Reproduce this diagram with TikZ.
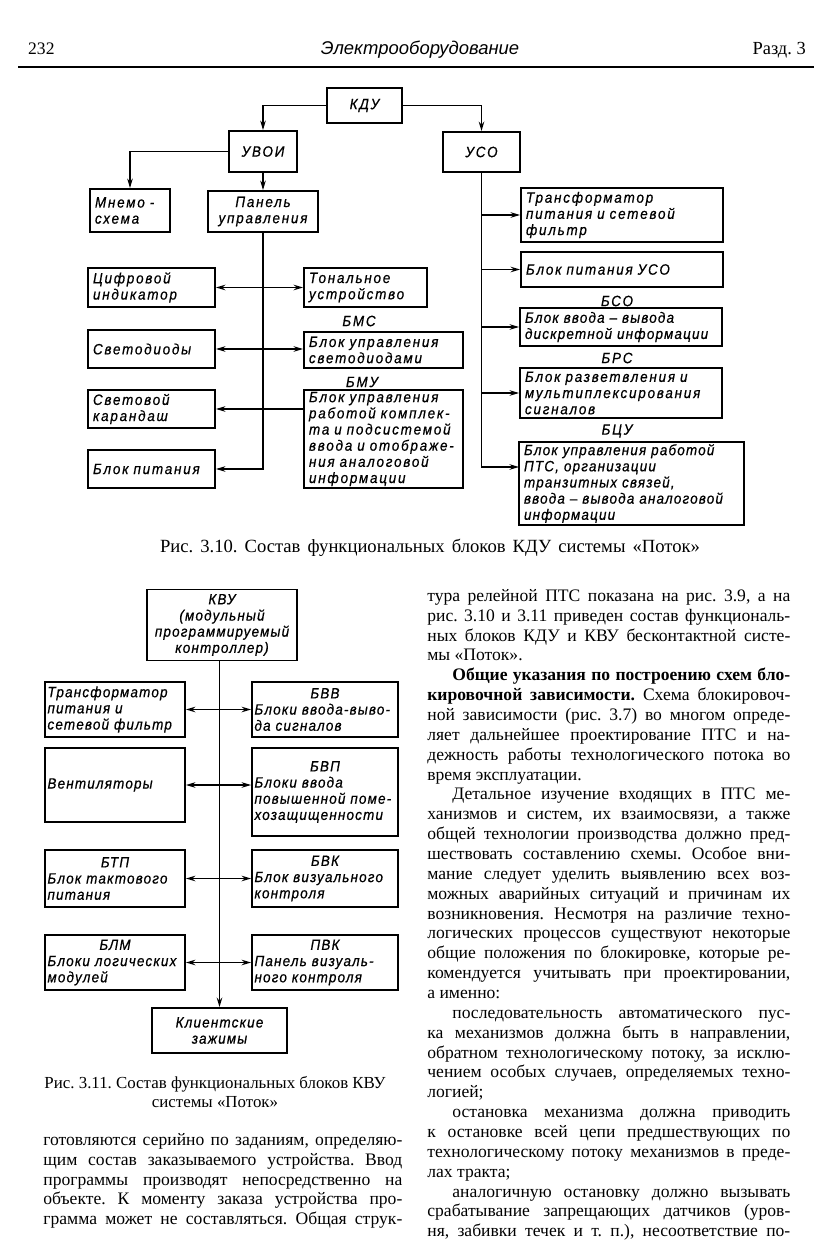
\documentclass[tikz,border=0pt]{standalone}
\usepackage{fontspec}
\setmainfont{Liberation Serif}
\newfontfamily\gostfont[FakeStretch=0.9,LetterSpace=12,FakeBold=0.6]{Liberation Sans}
\newfontfamily\gostnarrow[FakeStretch=0.9,LetterSpace=8,FakeBold=0.6]{Liberation Sans}
\newfontfamily\headfont{Liberation Sans}
\usetikzlibrary{arrows.meta,positioning}
\frenchspacing
% one justified line of the page text, and the last line of a paragraph
\newcommand{\jl}[1]{\hbox to\hsize{\spaceskip=0pt\xspaceskip=0pt #1}}
\newcommand{\jend}[1]{\hbox to\hsize{\spaceskip=0pt\xspaceskip=0pt #1\hfil}}

\begin{document}
\begin{tikzpicture}[
  box/.style={draw, line width=1pt, align=left, inner xsep=0.1cm, inner ysep=0.03cm,
    font=\gostfont\itshape\fontsize{8.5}{9.2}\selectfont},
  narrow/.style={font=\gostnarrow\itshape\fontsize{8.5}{9.2}\selectfont},
  box2/.style={box, narrow, inner xsep=0.05cm},
  tag/.style={font=\gostfont\itshape\fontsize{8.5}{9.2}\selectfont},
  arr/.style={-{Stealth[length=1.9mm,width=1.1mm]}, line width=1pt},
  darr/.style={{Stealth[length=1.9mm,width=1.1mm]}-{Stealth[length=1.9mm,width=1.1mm]}, line width=1pt},
  body/.style={font=\fontsize{10}{11.3}\selectfont, inner sep=0pt, anchor=north west},
  figcap/.style={font=\fontsize{10}{10.8}\selectfont, align=center}
]
\path[use as bounding box, fill=white] (0,0) rectangle (16.64,-25.18);

% page head
\node[anchor=base west, font=\fontsize{10}{12}\selectfont] (pnum) at (0.44,-1.1) {232};
\node[anchor=base, font=\headfont\itshape\fontsize{10.5}{12}\selectfont] (ptitle) at (8.4,-1.1) {Электрооборудование};
\node[anchor=base east, font=\fontsize{10.5}{12}\selectfont] (psect) at (16.24,-1.1) {Разд. 3};
\draw[line width=0.8pt] (0.36,-1.34) -- (16.28,-1.34);

% Fig. 3.10
\node[box, align=center, minimum width=1.5cm, minimum height=0.7cm] (kdu) at (7.29,-2.11) {КДУ};
\node[box, align=center, minimum width=1.36cm, minimum height=0.82cm] (uvoi) at (5.26,-3.03) {УВОИ};
\node[box, align=center, minimum width=1.54cm, minimum height=0.8cm] (uso) at (9.63,-3.04) {УСО};
\node[box, text width=1.4cm, minimum height=0.86cm] (mnemo) at (2.6,-4.21) {Мнемо -\\схема};
\node[box, align=center, text width=2.0cm, minimum height=0.82cm] (panel) at (5.26,-4.23) {Панель\\управления};

\node[box, text width=2.34cm, minimum height=0.78cm] (cifr) at (3.03,-5.75) {Цифровой\\индикатор};
\node[box, text width=2.26cm, minimum height=0.78cm] (ton) at (7.31,-5.75) {Тональное\\устройство};
\node[box, text width=2.34cm, minimum height=0.76cm] (svetod) at (3.03,-6.98) {Светодиоды};
\node[box, text width=2.98cm, minimum height=0.72cm] (bms) at (7.67,-7.0) {Блок управления\\светодиодами};
\node[box, text width=2.34cm, minimum height=0.76cm] (karand) at (3.03,-8.18) {Световой\\карандаш};
\node[box, text width=2.98cm, minimum height=1.96cm] (bmu) at (7.67,-8.78)
  {Блок управления\\работой комплек-\\та и подсистемой\\ввода и отображе-\\ния аналоговой\\информации};
\node[box, text width=2.34cm, minimum height=0.76cm] (bpit) at (3.03,-9.38) {Блок питания};
\node[tag] (lbms) at (7.18,-6.42) {БМС};
\node[tag] (lbmu) at (7.24,-7.64) {БМУ};

\node[box, text width=3.84cm, minimum height=1.08cm] (transf) at (12.44,-4.3) {Трансформатор\\питания и сетевой\\фильтр};
\node[box, text width=3.84cm, minimum height=0.7cm] (bpuso) at (12.44,-5.39) {Блок питания УСО};
\node[box, narrow, text width=3.84cm, minimum height=0.76cm] (bso) at (12.42,-6.54) {Блок ввода – вывода\\дискретной информации};
\node[box, text width=3.84cm, minimum height=1.0cm] (brs) at (12.42,-7.86) {Блок разветвления и\\мультиплексирования\\сигналов};
\node[box, narrow, text width=4.3cm, minimum height=1.66cm] (bcu) at (12.63,-9.67)
  {Блок управления работой\\ПТС, организации\\транзитных связей,\\ввода – вывода аналоговой\\информации};
\node[tag] (lbso) at (12.34,-6.02) {БСО};
\node[tag] (lbrs) at (12.34,-7.16) {БРС};
\node[tag] (lbcu) at (12.34,-8.62) {БЦУ};
\coordinate (bcuin) at (10.38,-9.34);

\draw[arr] (kdu.west) -| (uvoi.north);
\draw[arr] (kdu.east) -| (uso.north);
\draw[arr] (uvoi.west) -| (mnemo.north);
\draw[arr] (uvoi.south) -- (panel.north);
\draw[arr] (panel.south) |- (bpit.east);
\draw[darr] (cifr.east) -- (ton.west);
\draw[darr] (svetod.east) -- (svetod.east -| bms.west);
\draw[arr] (karand.east -| bmu.west) -- (karand.east);
\draw[arr] (uso.south) |- (bcuin);
\draw[arr] (uso.south |- transf.west) -- (transf.west);
\draw[arr] (uso.south |- bpuso.west) -- (bpuso.west);
\draw[arr] (uso.south |- bso.west) -- (bso.west);
\draw[arr] (uso.south |- brs.west) -- (brs.west);

\node[figcap, font=\fontsize{10.6}{11}\selectfont] (cap1) at (8.6,-10.96)
  {\makebox[10.8cm][s]{Рис. 3.10. Состав функциональных блоков КДУ системы «Поток»}};

% Fig. 3.11
\node[box2, align=center, text width=2.9cm, minimum height=1.42cm] (kvu) at (4.44,-12.5)
  {КВУ\\(модульный\\программируемый\\контроллер)};
\node[box2, text width=2.7cm, minimum height=1.1cm] (transf2) at (2.3,-14.19) {Трансформатор\\питания и\\сетевой фильтр};
\node[box2, text width=2.82cm, minimum height=1.1cm] (bvv) at (6.5,-14.19)
  {\noindent\makebox[\hsize]{БВВ}\\Блоки ввода-выво-\\да сигналов};
\node[box2, text width=2.7cm, minimum height=1.48cm] (vent) at (2.3,-15.7) {Вентиляторы};
\node[box2, text width=2.82cm, minimum height=1.76cm] (bvp) at (6.5,-15.84)
  {\noindent\makebox[\hsize]{БВП}\\Блоки ввода\\повышенной поме-\\хозащищенности};
\node[box2, text width=2.7cm, minimum height=1.14cm] (btp) at (2.3,-17.57)
  {\noindent\makebox[\hsize]{БТП}\\Блок тактового\\питания};
\node[box2, text width=2.82cm, minimum height=1.14cm] (bvk) at (6.5,-17.57)
  {\noindent\makebox[\hsize]{БВК}\\Блок визуального\\контроля};
\node[box2, text width=2.7cm, minimum height=1.1cm] (blm) at (2.3,-19.25)
  {\noindent\makebox[\hsize]{БЛМ}\\Блоки логических\\модулей};
\node[box2, text width=2.82cm, minimum height=1.1cm] (pvk) at (6.5,-19.25)
  {\noindent\makebox[\hsize]{ПВК}\\Панель визуаль-\\ного контроля};
\node[box2, align=center, minimum width=2.7cm, minimum height=0.9cm] (klient) at (4.39,-20.61) {Клиентские\\зажимы};

\draw[arr] (klient.north |- kvu.south) -- (klient.north);
\draw[darr] (transf2.east) -- (bvv.west);
\draw[darr] (vent.east) -- (vent.east -| bvp.west);
\draw[darr] (btp.east) -- (bvk.west);
\draw[darr] (blm.east) -- (pvk.west);

\node[figcap, font=\fontsize{9.6}{10.8}\selectfont] (cap2) at (4.3,-21.84) {Рис. 3.11. Состав функциональных блоков КВУ\\системы «Поток»};

% page text
\node[body, text width=7.18cm] (leftcol) at (0.86,-22.66) {%
\jl{готовляются серийно по заданиям, определяю-}
\jl{щим состав заказываемого устройства. Ввод}
\jl{программы производят непосредственно на}
\jl{объекте. К моменту заказа устройства про-}
\jl{грамма может не составляться. Общая струк-}};

\node[body, text width=7.26cm] (rightcol) at (8.54,-11.78) {%
\jl{тура релейной ПТС показана на рис. 3.9, а на}
\jl{рис. 3.10 и 3.11 приведен состав функциональ-}
\jl{ных блоков КДУ и КВУ бесконтактной систе-}
\jend{мы «Поток».}
\jl{\hskip0.5cm\textbf{Общие указания по построению схем бло-}}
\jl{\textbf{кировочной зависимости.} Схема блокировоч-}
\jl{ной зависимости (рис. 3.7) во многом опреде-}
\jl{ляет дальнейшее проектирование ПТС и на-}
\jl{дежность работы технологического потока во}
\jend{время эксплуатации.}
\jl{\hskip0.5cm Детальное изучение входящих в ПТС ме-}
\jl{ханизмов и систем, их взаимосвязи, а также}
\jl{общей технологии производства должно пред-}
\jl{шествовать составлению схемы. Особое вни-}
\jl{мание следует уделить выявлению всех воз-}
\jl{можных аварийных ситуаций и причинам их}
\jl{возникновения. Несмотря на различие техно-}
\jl{логических процессов существуют некоторые}
\jl{общие положения по блокировке, которые ре-}
\jl{комендуется учитывать при проектировании,}
\jend{а именно:}
\jl{\hskip0.5cm последовательность автоматического пус-}
\jl{ка механизмов должна быть в направлении,}
\jl{обратном технологическому потоку, за исклю-}
\jl{чением особых случаев, определяемых техно-}
\jend{логией;}
\jl{\hskip0.5cm остановка механизма должна приводить}
\jl{к остановке всей цепи предшествующих по}
\jl{технологическому потоку механизмов в преде-}
\jend{лах тракта;}
\jl{\hskip0.5cm аналогичную остановку должно вызывать}
\jl{срабатывание запрещающих датчиков (уров-}
\jl{ня, забивки течек и т. п.), несоответствие по-}};
\end{tikzpicture}
\end{document}
